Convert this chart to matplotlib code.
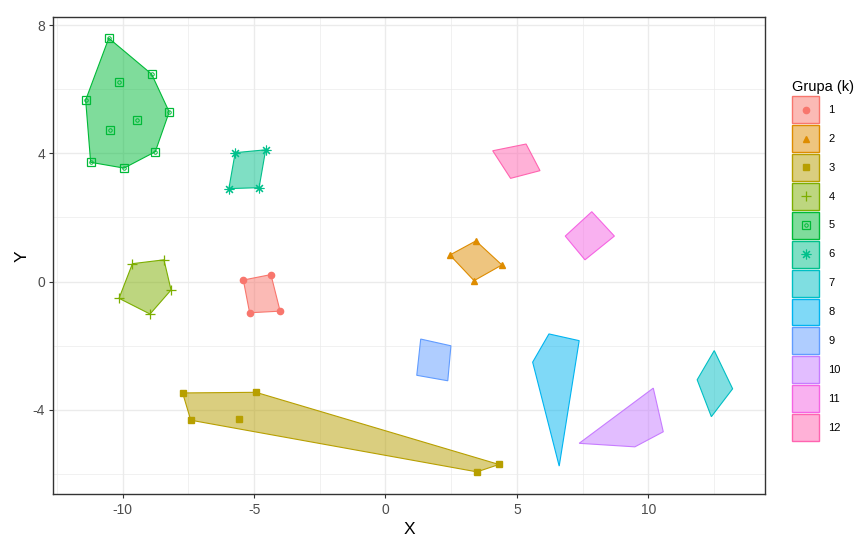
import matplotlib
matplotlib.use("Agg")
import matplotlib.pyplot as plt
from matplotlib.patches import Polygon, Rectangle
from matplotlib.lines import Line2D
from matplotlib.legend_handler import HandlerBase
import numpy as np

plt.rcParams['font.family'] = ['Liberation Sans', 'DejaVu Sans']
plt.rcParams['axes.unicode_minus'] = False

# points of each group
x1 = [-5.41, -4.36, -4.01, -5.17]
y1 = [0.05, 0.22, -0.92, -0.97]
x2 = [3.44, 2.45, 4.43, 3.37]
y2 = [1.27, 0.83, 0.52, 0.03]
x3 = [-7.72, -4.93, -7.41, -5.56, 4.32, 3.48]
y3 = [-3.47, -3.45, -4.32, -4.29, -5.70, -5.93]
x4 = [-9.63, -8.43, -8.16, -10.14, -8.96]
y4 = [0.56, 0.68, -0.26, -0.52, -1.01]
x5 = [-10.53, -8.90, -10.13, -11.41, -8.23, -9.46, -10.48, -8.76, -11.22, -9.95]
y5 = [7.59, 6.47, 6.23, 5.66, 5.29, 5.04, 4.73, 4.05, 3.72, 3.54]
x6 = [-5.72, -4.56, -5.96, -4.81]
y6 = [4.02, 4.11, 2.90, 2.93]
x7 = [12.51, 13.21, 12.40, 11.86]
y7 = [-2.15, -3.34, -4.21, -3.06]
x8 = [6.22, 7.37, 6.61, 5.60]
y8 = [-1.63, -1.84, -5.75, -2.51]
x9 = [1.34, 2.49, 2.37, 1.19]
y9 = [-1.79, -2.00, -3.09, -2.92]
x10 = [10.19, 10.57, 9.49, 7.37]
y10 = [-3.32, -4.68, -5.15, -5.04]
x11 = [7.85, 8.71, 7.59, 6.84]
y11 = [2.18, 1.42, 0.68, 1.42]
x12 = [4.08, 5.35, 5.88, 4.76]
y12 = [4.08, 4.29, 3.46, 3.22]

labels = [str(k) for k in range(1, 13)]
colors = ["#F8766D", "#DE8C00", "#B79F00", "#7CAE00", "#00BA38", "#00C08B",
          "#00BFC4", "#00B4F0", "#619CFF", "#C77CFF", "#F564E3", "#FF64B0"]

xs = [x1, x2, x3, x4, x5, x6, x7, x8, x9, x10, x11, x12]
ys = [y1, y2, y3, y4, y5, y6, y7, y8, y9, y10, y11, y12]

# ggplot default shapes: only the first six groups get points
shapes = [
    [dict(marker="o", ms=4.5)],
    [dict(marker="^", ms=4.5)],
    [dict(marker="s", ms=4)],
    [dict(marker="+", ms=7, mew=0.9)],
    [dict(marker="s", ms=5.5, mfc="none", mew=0.9), dict(marker="o", ms=2.5, mfc="none", mew=0.7)],
    [dict(marker=(8, 2, 0), ms=7, mew=0.8)],
    [], [], [], [], [], [],
]


def hull(px, py):
    pts = sorted(set(zip(px, py)))

    def cross(o, a, b):
        return (a[0] - o[0]) * (b[1] - o[1]) - (a[1] - o[1]) * (b[0] - o[0])

    lower, upper = [], []
    for p in pts:
        while len(lower) >= 2 and cross(lower[-2], lower[-1], p) <= 0:
            lower.pop()
        lower.append(p)
    for p in reversed(pts):
        while len(upper) >= 2 and cross(upper[-2], upper[-1], p) <= 0:
            upper.pop()
        upper.append(p)
    return np.array(lower[:-1] + upper[:-1])


class GroupKey:
    def __init__(self, color, styles):
        self.color = color
        self.styles = styles


class KeyHandler(HandlerBase):
    def create_artists(self, legend, orig_handle, xdescent, ydescent,
                       width, height, fontsize, trans):
        c = orig_handle.color
        rect = Rectangle((-xdescent, -ydescent), width, height,
                         facecolor=c + "80", edgecolor=c, lw=1.0, transform=trans)
        out = [rect]
        cx = -xdescent + width / 2
        cy = -ydescent + height / 2
        for st in orig_handle.styles:
            out.append(Line2D([cx], [cy], ls="none", color=c, transform=trans, **st))
        return out


fig = plt.figure(figsize=(8.63, 5.38), dpi=100)
ax = fig.add_axes([0.0618, 0.0812, 0.8246, 0.8866])

for i in range(12):
    h = hull(xs[i], ys[i])
    ax.add_patch(Polygon(h, closed=True, facecolor=colors[i], alpha=0.5,
                         edgecolor="none", zorder=2))
    ax.add_patch(Polygon(h, closed=True, facecolor="none",
                         edgecolor=colors[i], lw=0.8, zorder=3))
    for st in shapes[i]:
        ax.plot(xs[i], ys[i], ls="none", color=colors[i], zorder=4, **st)

ax.set_xlim(-12.64, 14.44)
ax.set_ylim(-6.63, 8.24)
ax.set_xticks([-10, -5, 0, 5, 10])
ax.set_yticks([-4, 0, 4, 8])
ax.set_xticks([-12.5, -7.5, -2.5, 2.5, 7.5, 12.5], minor=True)
ax.set_yticks([-6, -2, 2, 6], minor=True)
ax.grid(True, which="major", color="#EBEBEB", lw=1.0, zorder=0)
ax.grid(True, which="minor", color="#EBEBEB", lw=0.5, zorder=0)
ax.set_axisbelow(True)
for s in ax.spines.values():
    s.set_color("#333333")
    s.set_linewidth(1.0)
ax.tick_params(which="major", length=3, width=0.8, color="#333333",
               labelcolor="#4D4D4D", labelsize=10, pad=3)
ax.tick_params(which="minor", length=0)
ax.set_xlabel("X", fontsize=12.5, labelpad=4)
ax.set_ylabel("Y", fontsize=12.5, labelpad=2)

handles = [GroupKey(colors[i], shapes[i]) for i in range(12)]
leg = fig.legend(handles, labels, title="Grupa (k)", loc="upper left",
                 bbox_to_anchor=(0.918, 0.851), frameon=False, fontsize=8,
                 title_fontsize=10.5, handlelength=2.45, handleheight=3.35,
                 labelspacing=0.18, handletextpad=0.8, borderaxespad=0,
                 borderpad=0, handler_map={GroupKey: KeyHandler()})
leg._legend_box.align = "left"

fig.savefig("out.png", dpi=100)
